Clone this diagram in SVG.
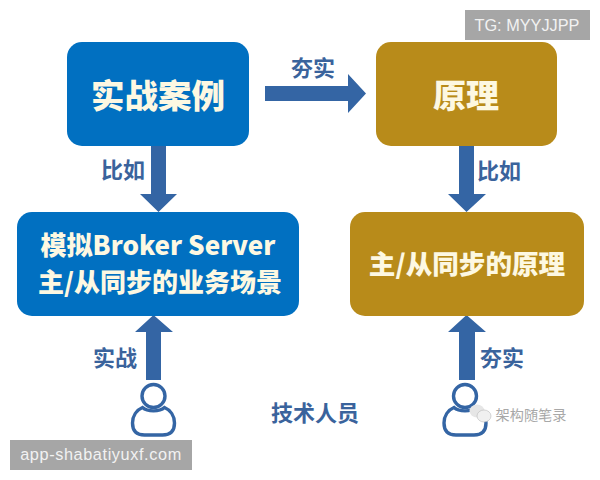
<svg xmlns="http://www.w3.org/2000/svg" width="600" height="480" viewBox="0 0 600 480">
<defs>
<g id="person"><circle cx="0" cy="0" r="11.500" fill="none" stroke="#3465a4" stroke-width="3.400"/><path d="M-11 11.500C-6 16 6 16 11 11.500C17 14 21 20 21 27C21 35 17 39 9 39H-9C-17 39 -21 35 -21 27C-21 20 -17 14 -11 11.500Z" fill="none" stroke="#3465a4" stroke-width="3.400"/></g>
</defs>
<style>
text{font-family:"Noto Sans CJK SC","Liberation Sans",sans-serif;text-anchor:middle}
.box{font-weight:900;fill:#fdf8e2}
.lab{font-weight:700;fill:#3a639c;font-size:22px}
.arr{fill:#3465a4}
.wm{font-family:"Liberation Sans",sans-serif;fill:#f2f2f2;font-size:16.300px}
</style>
<rect width="600" height="480" fill="#fff"/>
<g id="connectors">
<path class="arr" d="M265 86H348V74L366 93.500L348 113V101H265Z"/>
<path class="arr" d="M151 146H166V194H177L158.500 212L140 194H151Z"/>
<path class="arr" d="M459 146H474V194H486L466.500 212L448 194H459Z"/>
<path class="arr" d="M146 380V332H135L153.500 315L173 332H161V380Z"/>
<path class="arr" d="M459 380V332H448L466.500 315L486 332H475V380Z"/>
</g>
<g id="node-case"><rect x="67" y="42" width="182" height="104" rx="15" fill="#0170c1"/><text class="box" x="158" y="108" font-size="33.500">实战案例</text></g>
<g id="node-principle"><rect x="376" y="42" width="181" height="104" rx="15" fill="#b88b1a"/><text class="box" x="466" y="108" font-size="33">原理</text></g>
<g id="node-sim"><rect x="17" y="212" width="282" height="104" rx="15" fill="#0170c1"/><text class="box" x="158" y="255" font-size="26">模拟Broker Server</text><text class="box" x="160" y="292" font-size="26">主/从同步的业务场景</text></g>
<g id="node-sync"><rect x="350" y="212" width="234" height="104" rx="15" fill="#b88b1a"/><text class="box" x="467" y="274" font-size="26.600">主/从同步的原理</text></g>
<g id="labels">
<text class="lab" x="313" y="76">夯实</text>
<text class="lab" x="123" y="178">比如</text>
<text class="lab" x="499" y="179">比如</text>
<text class="lab" x="115" y="366">实战</text>
<text class="lab" x="502" y="366">夯实</text>
<text class="lab" x="315" y="421">技术人员</text>
</g>
<g id="person-left"><use href="#person" x="153.500" y="396"/></g>
<g id="person-right"><use href="#person" x="465" y="396"/></g>
<g id="watermarks">
<rect x="465" y="10" width="125" height="30" fill="#a6a6a6"/><text class="wm" x="527" y="31">TG: MYYJJPP</text>
<rect x="10" y="440" width="182" height="30" fill="#a6a6a6"/><text class="wm" x="101" y="460" letter-spacing=".6">app-shabatiyuxf.com</text>
<ellipse cx="477" cy="411" rx="7.500" ry="6.500" fill="#e6e6e6"/><ellipse cx="484" cy="416" rx="7" ry="6" fill="#f0f0f0" stroke="#bbb" stroke-width=".6"/>
<text x="531" y="420" font-size="14.200" fill="#a8a8a8">架构随笔录</text>
</g>
</svg>
